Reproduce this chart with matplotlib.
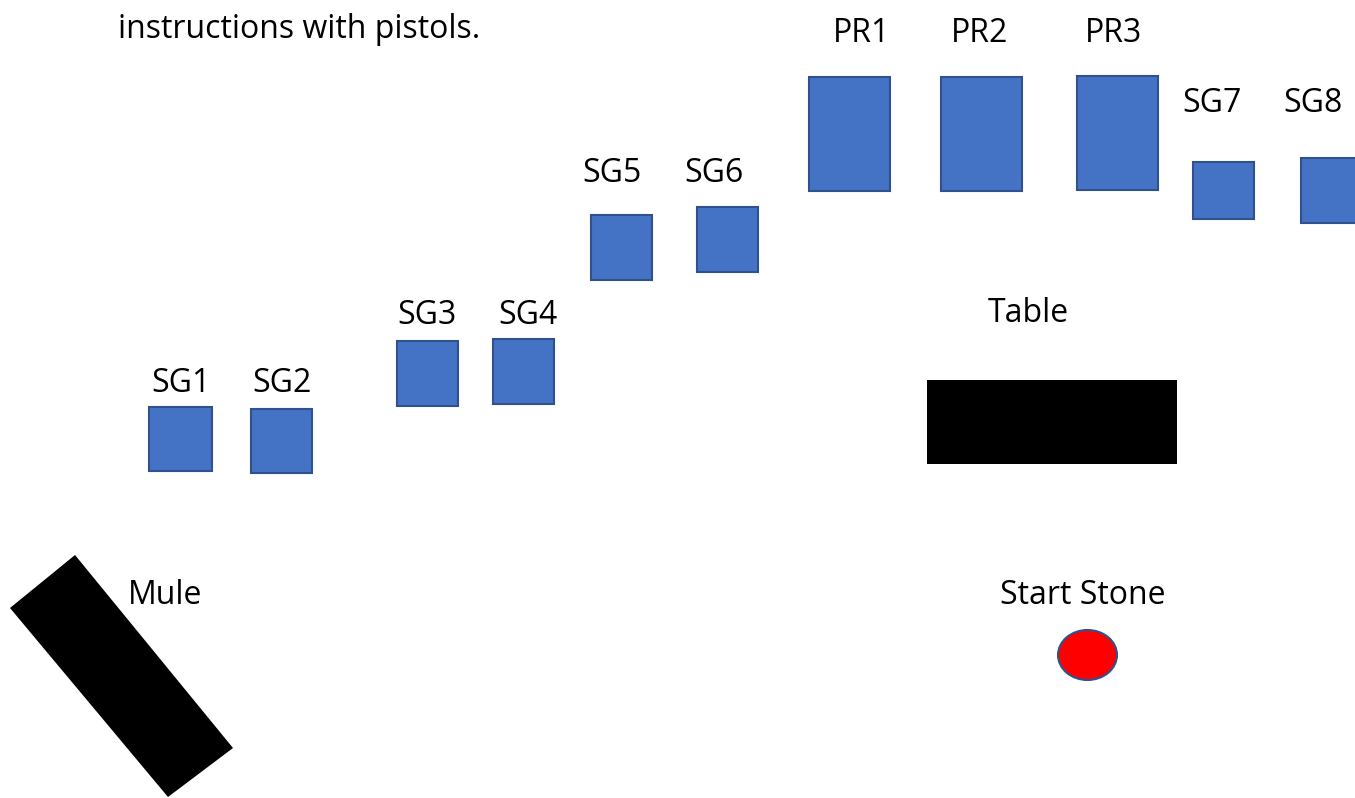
import matplotlib.pyplot as plt
from matplotlib.patches import Rectangle, Ellipse, Polygon

plt.rcParams["font.family"] = ["Open Sans", "DejaVu Sans"]

# stations (pixel layout of the stage diagram)
labels = ["SG1", "SG2", "SG3", "SG4", "SG5", "SG6",
          "PR1", "PR2", "PR3", "SG7", "SG8"]
box_x = [149, 251, 397, 493, 591, 697, 809, 941, 1077, 1193, 1301]
box_y = [407, 409, 341, 339, 215, 207, 77, 77, 76, 162, 158]
box_w = [63, 61, 61, 61, 61, 61, 81, 81, 81, 61, 61]
box_h = [64, 64, 65, 65, 65, 65, 114, 114, 114, 57, 65]
label_x = [181, 282, 427, 528, 612, 714, 862, 980, 1113, 1212, 1313]
label_y = [383, 383, 315, 315, 174, 174, 33, 33, 33, 104, 104]

table_box = (927, 380, 250, 84)
mule_corners = [(10, 608), (75, 555), (233, 748), (168, 797)]
stone_center = (1087.5, 655)
stone_size = (59, 50)

W, H = 1355, 798
fig = plt.figure(figsize=(W / 100, H / 100), dpi=100)
ax = fig.add_axes([0, 0, 1, 1])
ax.set_xlim(0, W)
ax.set_ylim(H, 0)
ax.axis("off")

fs = 23

for lab, x, y, w, h, lx, ly in zip(labels, box_x, box_y, box_w, box_h, label_x, label_y):
    ax.add_patch(Rectangle((x, y), w, h, facecolor="#4472C4",
                           edgecolor="#2F528F", linewidth=1.5))
    ax.text(lx, ly, lab, ha="center", va="center", fontsize=fs)

tx, ty, tw, th = table_box
ax.add_patch(Rectangle((tx, ty), tw, th, facecolor="black", edgecolor="none"))
ax.text(1028, 314, "Table", ha="center", va="center", fontsize=fs)

ax.add_patch(Polygon(mule_corners, closed=True, facecolor="black", edgecolor="none"))
ax.text(128, 596, "Mule", ha="left", va="center", fontsize=fs)

ax.add_patch(Ellipse(stone_center, stone_size[0], stone_size[1],
                     facecolor="#FF0000", edgecolor="#2F528F", linewidth=1.5))
ax.text(1083, 596, "Start Stone", ha="center", va="center", fontsize=fs)

ax.text(118, 30, "instructions with pistols.", ha="left", va="center", fontsize=fs)

fig.savefig("out.png", dpi=100)
